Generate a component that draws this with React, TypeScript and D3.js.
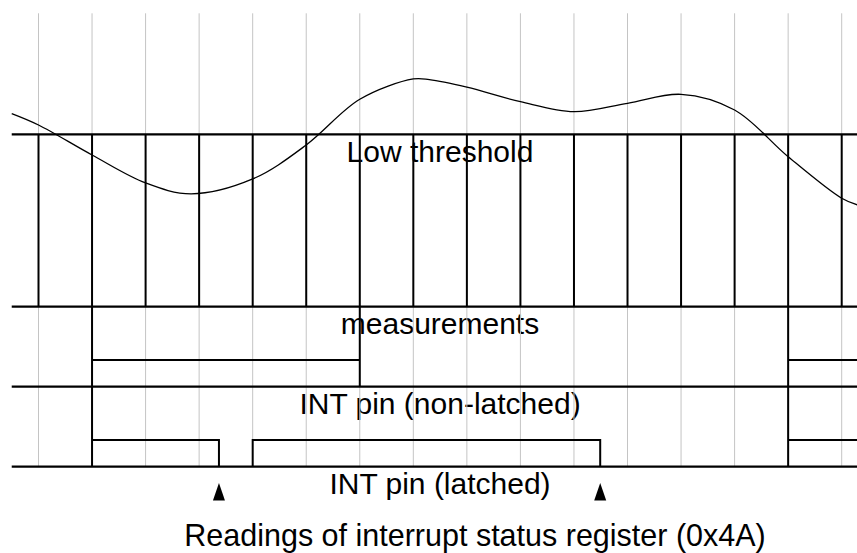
import * as d3 from "d3";

// time is counted in sample periods; sample 0 is the first grid line
const sampleTimes = d3.range(0, 16);

// analog signal, in units of the low threshold (1 = threshold)
const signalTimes = [-0.5, 0, 1, 2, 2.85, 4, 5, 6, 7, 7.3, 8, 9, 10, 11, 12, 13, 14, 15, 15.3];
const signalValues = [1.12, 1.054, 0.88, 0.718, 0.655, 0.741, 0.938, 1.203, 1.321, 1.317, 1.273, 1.189, 1.131, 1.18, 1.232, 1.141, 0.87, 0.629, 0.59];

// digital rows: intervals where the line sits at the middle level
const measHigh = [[1, 6], [14, 15.6]];
const measEdges = [1, 6, 14];
const intHigh = [[1, 3.37], [4, 10.49], [14, 15.6]];
const intEdges = [1, 14];

const readTimes = [3.37, 10.49];

const rowLabels = ["Low threshold", "measurements", "INT pin (non-latched)", "INT pin (latched)"];
const footLabel = "Readings of interrupt status register (0x4A)";

const width = 857;
const height = 553;
const rowTops = [134.3, 306.7, 386.7, 466.7];
const font = "'Liberation Sans', Arial, sans-serif";

export default function App() {
  const x = d3.scaleLinear().domain([0, 15]).range([38.5, 841.7]);
  const yAnalog = d3.scaleLinear().domain([0, 1]).range([rowTops[1], rowTops[0]]);
  const tStart = -0.5;
  const tEnd = 15.6;

  const curve = d3
    .line<number>()
    .x((_, i) => x(signalTimes[i]))
    .y((d) => yAnalog(d))
    .curve(d3.curveCatmullRom.alpha(0.5))(signalValues);

  const digitalRow = (high: number[][], edges: number[], top: number, bottom: number) => {
    const mid = bottom - (bottom - top) / 3;
    const segs: string[] = [];
    high.forEach(([a, b]) => {
      segs.push(`M${x(a)},${bottom}V${mid}H${x(b)}V${bottom}`);
    });
    edges.forEach((t) => segs.push(`M${x(t)},${top}V${bottom}`));
    return segs.join("");
  };

  const stroke = "#000";

  return (
    <svg width={width} height={height} style={{ position: "absolute", left: 0, top: 0, background: "#fff" }}>
      {/* labels sit under the lines */}
      {rowLabels.map((l, i) => (
        <text key={l} x={440} y={rowTops[i] + 27.3} textAnchor="middle" fontFamily={font} fontSize={30} fill="#000">
          {l}
        </text>
      ))}
      <text x={475} y={545.5} textAnchor="middle" fontFamily={font} fontSize={30.5} fill="#000">
        {footLabel}
      </text>

      {/* grid */}
      {sampleTimes.map((t) => (
        <line key={t} x1={x(t)} x2={x(t)} y1={13.3} y2={rowTops[3]} stroke="#c4c4c4" strokeWidth={1} />
      ))}

      {/* row borders */}
      {rowTops.map((y, i) => (
        <line key={i} x1={x(tStart)} x2={x(tEnd)} y1={y} y2={y} stroke={stroke} strokeWidth={2.3} />
      ))}

      {/* sampling strobes */}
      {sampleTimes.map((t) => (
        <line key={t} x1={x(t)} x2={x(t)} y1={rowTops[0]} y2={rowTops[1]} stroke={stroke} strokeWidth={2} />
      ))}

      <path d={digitalRow(measHigh, measEdges, rowTops[1], rowTops[2])} fill="none" stroke={stroke} strokeWidth={2} />
      <path d={digitalRow(intHigh, intEdges, rowTops[2], rowTops[3])} fill="none" stroke={stroke} strokeWidth={2} />

      <path d={curve ?? ""} fill="none" stroke={stroke} strokeWidth={1.3} />

      {readTimes.map((t) => (
        <path key={t} d={`M${x(t)},483L${x(t) + 6},500.5L${x(t) - 6},500.5Z`} fill="#000" />
      ))}
    </svg>
  );
}
